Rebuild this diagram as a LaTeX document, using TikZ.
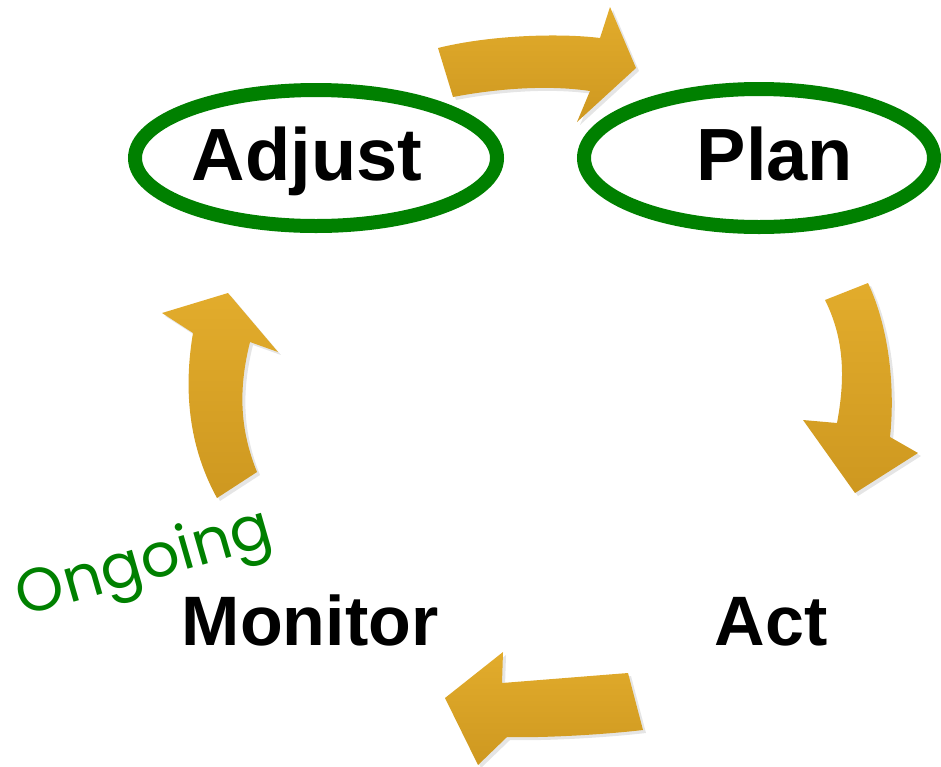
\documentclass[tikz,border=0pt]{standalone}
\usepackage{fontspec}
\setmainfont{Liberation Sans}
\newfontfamily\handfont{Poppins}
\usetikzlibrary{shadows}

\definecolor{ringgreen}{RGB}{0,128,0}
\definecolor{arrowgold}{RGB}{226,172,44}
\definecolor{arrowdark}{RGB}{206,152,32}

\begin{document}
\begin{tikzpicture}[x=1pt, y=-1pt,
		step label/.style={font=\bfseries\fontsize{74}{74}\selectfont, anchor=base, inner sep=0pt},
		small label/.style={font=\bfseries\fontsize{70}{70}\selectfont, anchor=base, inner sep=0pt},
		ring/.style={draw=ringgreen, line width=14pt},
		cyclearrow/.style={top color=arrowgold, bottom color=arrowdark,
			drop shadow={shadow xshift=3pt, shadow yshift=-3pt, fill=black!20}}
	]
		\useasboundingbox (0,0) rectangle (941,766);

		% the four steps
		\node[step label] (adjust) at (307,180) {Adjust};
		\node[step label] (plan) at (775,180) {Plan};
		\node[small label] (act) at (771,645) {Act};
		\node[small label] (monitor) at (310,645) {Monitor};

		\node[
			font=\handfont\fontsize{61}{61}\selectfont, text=ringgreen,
			rotate=16, inner sep=0pt
		] (ongoing) at (145,566) {Ongoing};

		% rings round the top steps
		\draw[ring] (316,158) ellipse [x radius=181, y radius=68];
		\draw[ring] (759,158) ellipse [x radius=175, y radius=69];

		% arrows of the cycle
		\path[cyclearrow] (453,97) -- (438,48) .. controls (490,35) and (560,33) .. (600,38)
			-- (610,7) -- (636,68) -- (577,122) -- (590,91)
			.. controls (550,85) and (500,88) .. (453,97) -- cycle;
		\path[cyclearrow] (825,300) -- (868,283) .. controls (890,330) and (895,390) .. (890,437)
			-- (918,453) -- (855,493) -- (803,420) -- (837,423)
			.. controls (845,380) and (845,340) .. (825,300) -- cycle;
		\path[cyclearrow] (628,673) -- (643,730) .. controls (600,735) and (540,738) .. (507,737)
			-- (478,765) -- (445,698) -- (503,652) -- (502,683)
			.. controls (540,680) and (590,676) .. (628,673) -- cycle;
		\path[cyclearrow] (217,498) .. controls (185,440) and (185,380) .. (193,333)
			-- (162,313) -- (228,293) -- (278,352) -- (250,342)
			.. controls (238,390) and (240,430) .. (257,472) -- cycle;
	\end{tikzpicture}
\end{document}
